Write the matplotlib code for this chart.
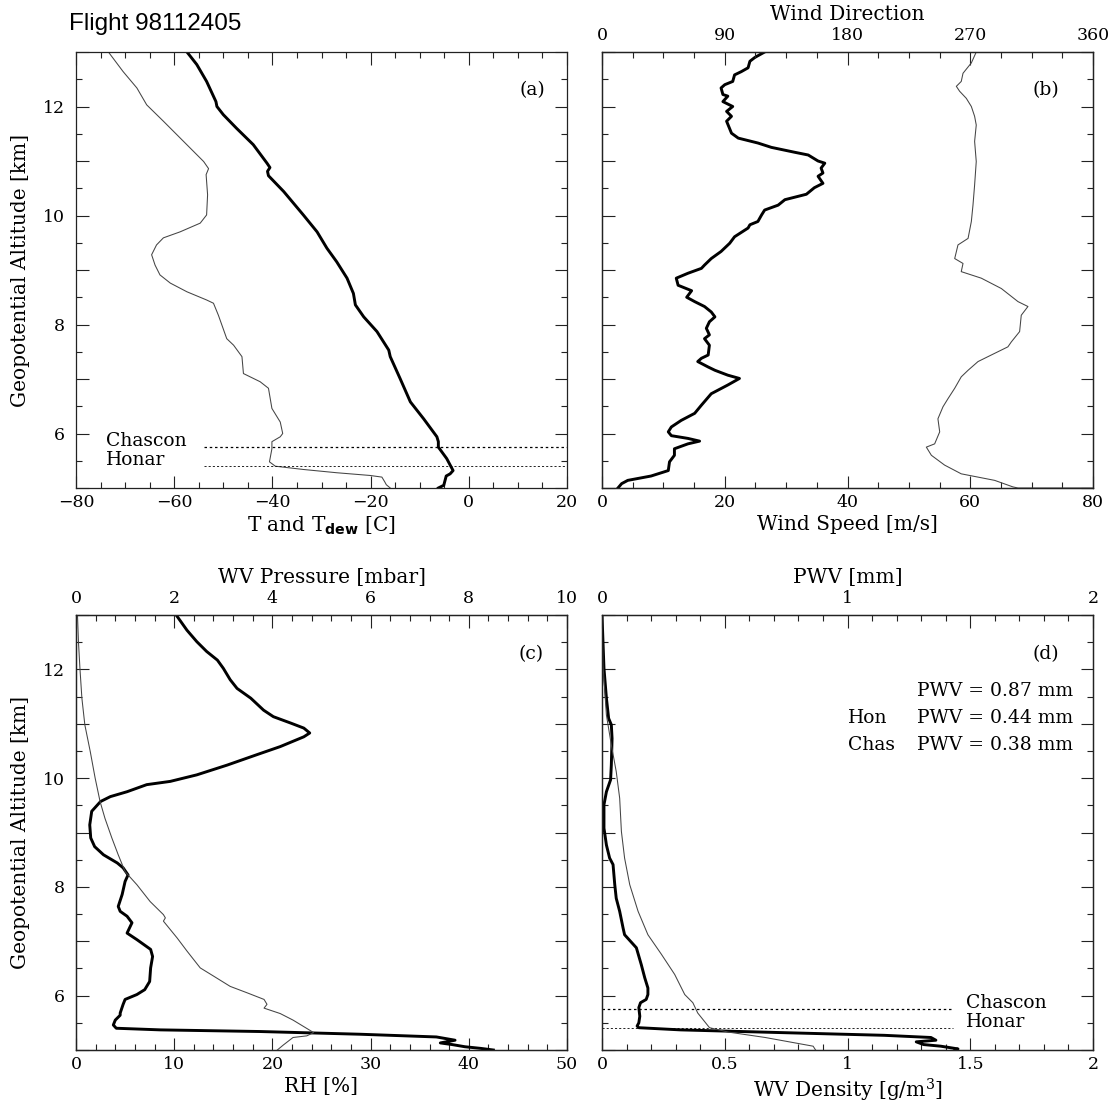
import matplotlib
matplotlib.use('Agg')
import matplotlib.pyplot as plt
from matplotlib.ticker import MultipleLocator, FuncFormatter

plt.rcParams['font.family'] = 'DejaVu Serif'
plt.rcParams['mathtext.fontset'] = 'custom'
plt.rcParams['mathtext.rm'] = 'DejaVu Serif'
plt.rcParams['mathtext.bf'] = 'DejaVu Sans:bold'
plt.rcParams['axes.unicode_minus'] = True

# ---------------- data ----------------
site_names = ['Chascon', 'Honar']
site_alt = [5.75, 5.40]

# (a) temperature and dew point vs altitude
t_alt = [13.0, 12.77, 12.46, 12.09, 12.0, 11.85, 11.60, 11.30, 10.96, 10.88, 10.81, 10.73, 10.44, 10.01,
         9.70, 9.40, 9.15, 8.85, 8.57, 8.36, 8.14, 7.87, 7.53, 7.41, 7.01, 6.58, 6.27, 5.94, 5.85, 5.75,
         5.54, 5.32, 5.26, 5.22, 5.05, 5.0]
t_val = [-57.4, -55.4, -53.4, -51.5, -51.3, -50.0, -47.3, -43.9, -41.1, -40.5, -41.0, -40.8, -37.7, -33.7,
         -30.9, -28.9, -26.9, -24.8, -23.5, -23.1, -21.4, -18.7, -16.3, -16.0, -14.0, -11.9, -9.2, -6.5, -6.2, -6.2,
         -4.5, -3.2, -3.8, -4.6, -5.1, -6.2]
td_alt = [13.0, 12.64, 12.34, 12.03, 11.73, 11.36, 10.99, 10.86, 10.75, 10.38, 10.01, 9.86, 9.70, 9.59,
          9.46, 9.28, 9.09, 8.91, 8.76, 8.60, 8.45, 8.39, 8.17, 7.74, 7.62, 7.41, 7.10, 6.95, 6.83, 6.46,
          6.21, 6.0, 5.94, 5.85, 5.72, 5.48, 5.40, 5.34, 5.28, 5.23, 5.20, 5.11, 5.06, 5.0]
td_val = [-73.4, -70.4, -67.6, -65.6, -62.2, -58.1, -54.0, -53.0, -53.5, -53.2, -53.4, -54.7, -58.8, -62.2,
          -63.6, -64.6, -63.9, -62.9, -60.8, -57.4, -53.4, -52.0, -51.0, -49.3, -47.9, -46.2, -45.9, -42.5, -40.8, -40.1,
          -38.4, -37.9, -38.4, -40.1, -40.1, -40.6, -39.4, -33.7, -26.9, -20.1, -17.7, -17.1, -16.8, -16.0]

# (b) wind speed and direction
ws_alt = [13.0, 12.90, 12.83, 12.71, 12.64, 12.58, 12.46, 12.40, 12.34, 12.22, 12.19, 12.09, 12.0, 11.91,
          11.82, 11.73, 11.51, 11.42, 11.33, 11.25, 11.16, 11.11, 11.0, 10.96, 10.87, 10.78, 10.72, 10.59,
          10.51, 10.39, 10.29, 10.19, 10.10, 10.01, 9.89, 9.83, 9.77, 9.61, 9.49, 9.34, 9.21, 9.09, 9.03,
          8.94, 8.85, 8.72, 8.62, 8.50, 8.42, 8.33, 8.23, 8.14, 8.05, 7.93, 7.81, 7.74, 7.62, 7.44, 7.38,
          7.32, 7.22, 7.16, 7.07, 7.01, 6.89, 6.73, 6.52, 6.37, 6.24, 6.12, 6.03, 5.96, 5.91, 5.86, 5.81,
          5.72, 5.60, 5.48, 5.32, 5.22, 5.14, 5.08, 5.0]
ws_val = [26.5, 24.9, 24.1, 23.8, 22.7, 21.6, 21.3, 20.0, 19.4, 19.7, 20.5, 19.7, 21.3, 20.3,
          21.1, 20.3, 21.1, 22.2, 25.4, 27.6, 31.4, 33.6, 35.2, 36.3, 35.7, 36.0, 35.2, 36.0,
          34.6, 33.3, 29.8, 28.7, 26.5, 26.0, 25.4, 24.1, 23.8, 21.6, 20.8, 19.4, 17.8, 16.7, 16.2,
          14.0, 12.1, 12.4, 14.6, 13.8, 15.1, 16.7, 17.8, 18.4, 17.5, 17.0, 17.5, 16.7, 17.5, 17.3, 16.2,
          15.6, 17.3, 18.4, 20.5, 22.4, 20.5, 17.8, 16.2, 15.1, 12.9, 11.3, 10.8, 11.3, 14.0, 15.9, 14.0,
          11.8, 11.8, 11.0, 10.8, 8.0, 4.2, 3.2, 2.6]
wd_alt = [13.0, 12.80, 12.61, 12.46, 12.37, 12.28, 12.15, 12.0, 11.82, 11.66, 11.36, 10.99, 10.56, 10.19,
          9.89, 9.58, 9.46, 9.21, 9.12, 8.97, 8.85, 8.66, 8.42, 8.33, 8.17, 7.87, 7.68, 7.59, 7.44, 7.32,
          7.16, 7.04, 6.83, 6.64, 6.49, 6.27, 6.03, 5.81, 5.75, 5.60, 5.42, 5.26, 5.14, 5.02, 5.0, 5.0]
wd_val = [274.4, 270.8, 264.7, 263.4, 259.8, 262.2, 267.1, 270.8, 273.2, 274.4, 273.2, 274.4, 273.2, 272.0,
          270.8, 268.4, 261.0, 258.6, 264.7, 263.4, 278.1, 292.8, 305.0, 312.3, 307.4, 306.2, 300.1, 297.6, 285.4, 275.7,
          268.4, 263.4, 258.6, 253.7, 250.0, 246.3, 247.6, 243.9, 237.8, 241.5, 251.2, 263.4, 287.9, 301.3, 305.0, 360.0]

# (c) relative humidity and water vapour pressure
rh_alt = [13.0, 12.72, 12.51, 12.33, 12.17, 12.02, 11.81, 11.65, 11.47, 11.25, 11.13, 11.01, 10.92, 10.83,
          10.76, 10.58, 10.43, 10.24, 10.06, 9.94, 9.88, 9.75, 9.66, 9.57, 9.39, 9.14, 8.90, 8.74, 8.59,
          8.44, 8.35, 8.22, 8.10, 7.86, 7.64, 7.55, 7.46, 7.34, 7.15, 7.03, 6.85, 6.72, 6.51, 6.26, 6.11,
          6.02, 5.93, 5.84, 5.68, 5.64, 5.55, 5.46, 5.40, 5.37, 5.34, 5.29, 5.24, 5.18, 5.13, 5.10, 5.06,
          5.03, 5.0]
rh_val = [10.2, 11.3, 12.3, 13.3, 14.4, 15.0, 15.7, 16.4, 17.8, 19.1, 20.1, 21.9, 23.2, 23.8,
          23.2, 20.8, 18.4, 15.4, 12.3, 9.6, 7.2, 5.2, 3.5, 2.5, 1.6, 1.4, 1.5, 1.9, 2.8,
          4.2, 4.8, 5.3, 5.0, 4.7, 4.3, 4.5, 5.2, 5.7, 5.2, 6.2, 7.6, 7.8, 7.6, 7.5, 7.0,
          6.2, 5.0, 4.8, 4.5, 4.5, 4.0, 3.8, 4.1, 8.6, 18.7, 28.9, 36.7, 38.6, 37.1, 38.3, 39.6,
          41.2, 42.5]
e_alt = [13.0, 12.51, 12.02, 11.47, 10.98, 10.49, 10.0, 9.57, 9.26, 8.90, 8.59, 8.28, 8.04, 7.73, 7.49,
         7.43, 7.37, 7.06, 6.82, 6.51, 6.36, 6.17, 6.05, 5.93, 5.84, 5.77, 5.67, 5.55, 5.32, 5.26, 5.23,
         5.09, 5.0]
e_val = [0.03, 0.05, 0.08, 0.12, 0.18, 0.29, 0.39, 0.49, 0.59, 0.73, 0.86, 1.0, 1.24, 1.51, 1.78,
         1.82, 1.78, 2.06, 2.26, 2.53, 2.80, 3.14, 3.49, 3.83, 3.89, 3.83, 4.16, 4.42, 4.84, 4.70, 4.42,
         4.22, 4.10]

# (d) water vapour density and cumulative PWV
rho_alt = [13.0, 12.51, 12.02, 11.47, 11.10, 10.98, 10.73, 10.24, 9.97, 9.75, 9.51, 9.08, 8.77, 8.53,
           8.41, 8.04, 7.79, 7.55, 7.24, 7.12, 6.88, 6.57, 6.33, 6.14, 6.02, 5.93, 5.87, 5.78, 5.62, 5.50,
           5.44, 5.41, 5.37, 5.32, 5.27, 5.23, 5.18, 5.15, 5.10, 5.07, 5.02, 5.0]
rho_val = [0.0, 0.004, 0.008, 0.018, 0.027, 0.038, 0.041, 0.038, 0.035, 0.018, 0.008, 0.008, 0.018, 0.031,
           0.045, 0.052, 0.058, 0.072, 0.086, 0.092, 0.140, 0.160, 0.174, 0.187, 0.187, 0.180, 0.157, 0.150, 0.154, 0.150,
           0.143, 0.150, 0.32, 0.73, 1.15, 1.34, 1.36, 1.28, 1.31, 1.38, 1.45, 1.44]
pwv_alt = [13.0, 12.08, 11.16, 10.61, 10.12, 9.63, 9.02, 8.53, 8.04, 7.55, 7.12, 6.76, 6.39, 6.02,
           5.87, 5.68, 5.41, 5.33, 5.23, 5.07, 5.0]
pwv_val = [0.0, 0.004, 0.018, 0.038, 0.058, 0.072, 0.079, 0.092, 0.113, 0.147, 0.187, 0.242, 0.296, 0.337,
           0.37, 0.39, 0.438, 0.514, 0.665, 0.86, 0.87]
pwv_labels = ['', 'Hon', 'Chas']
pwv_totals = ['0.87', '0.44', '0.38']

# ---------------- figure ----------------
W, H = 1109, 1108
fig = plt.figure(figsize=(W / 100, H / 100), dpi=100)


def rect(l, t, r, b):
    return [l / W, 1 - b / H, (r - l) / W, (b - t) / H]


axA = fig.add_axes(rect(76, 52, 567, 488))
axB = fig.add_axes(rect(602, 52, 1093, 488))
axC = fig.add_axes(rect(76, 615, 567, 1050))
axD = fig.add_axes(rect(602, 615, 1093, 1050))

THICK = dict(color='black', lw=2.1, solid_joinstyle='round')
THIN = dict(color='#444444', lw=0.75)
TICK = 12.5
LAB = 14.5
TXT = 13.5
FRAME = '#222222'


def yfmt(v, p):
    return '%d' % v if (int(round(v)) % 2 == 0 and 5 < v < 13) else ''


def gfmt(v, p):
    return '%g' % v


def base(ax, ylabels):
    ax.set_ylim(5, 13)
    ax.yaxis.set_major_locator(MultipleLocator(1))
    ax.yaxis.set_minor_locator(MultipleLocator(0.5))
    if ylabels:
        ax.yaxis.set_major_formatter(FuncFormatter(yfmt))
        ax.set_ylabel('Geopotential Altitude [km]', fontsize=LAB)
        ax.yaxis.set_label_coords(-0.094, 0.5)
    else:
        ax.yaxis.set_major_formatter(FuncFormatter(lambda v, p: ''))
    ax.tick_params(axis='both', which='both', direction='in', right=True, width=0.8, colors=FRAME,
                   labelcolor='black', labelsize=TICK)
    ax.tick_params(axis='both', which='major', length=9)
    ax.tick_params(axis='both', which='minor', length=4.5)
    ax.tick_params(axis='y', which='major', pad=8)
    ax.tick_params(axis='x', which='major', pad=4)
    for s in ax.spines.values():
        s.set_linewidth(0.9)
        s.set_color(FRAME)


def twin_top(ax, lo, hi, major, minor, label, labelled=None):
    tw = ax.twiny()
    tw.set_xlim(lo, hi)
    tw.xaxis.set_major_locator(MultipleLocator(major))
    tw.xaxis.set_minor_locator(MultipleLocator(minor))
    if labelled is not None:
        tw.xaxis.set_major_formatter(FuncFormatter(
            lambda v, p: ('%g' % v) if any(abs(v - q) < 1e-6 for q in labelled) else ''))
    else:
        tw.xaxis.set_major_formatter(FuncFormatter(gfmt))
    tw.tick_params(axis='x', which='both', direction='in', width=0.8, colors=FRAME,
                   labelcolor='black', labelsize=TICK)
    tw.tick_params(axis='x', which='major', length=9, pad=6)
    tw.tick_params(axis='x', which='minor', length=4.5)
    tw.set_xlabel(label, fontsize=LAB, labelpad=5)
    for s in tw.spines.values():
        s.set_linewidth(0.9)
        s.set_color(FRAME)
    return tw


# ---- (a)
base(axA, True)
axA.set_xlim(-80, 20)
axA.xaxis.set_major_locator(MultipleLocator(20))
axA.xaxis.set_minor_locator(MultipleLocator(5))
axA.tick_params(axis='x', which='both', top=True)
axA.plot(td_val, td_alt, **THIN)
axA.plot(t_val, t_alt, **THICK)
axA.set_xlabel(r'T and T$_{\mathbf{dew}}$ [C]', fontsize=LAB, labelpad=3)
axA.plot([-54, 20], [site_alt[0]] * 2, color='black', lw=0.9, ls=(0, (2, 2.2)))
axA.plot([-54, 20], [site_alt[1]] * 2, color='black', lw=0.6, ls=(0, (2.5, 2.5)))
axA.text(0.061, 5.86, site_names[0], transform=axA.get_yaxis_transform(), fontsize=TXT, va='center')
axA.text(0.061, 5.51, site_names[1], transform=axA.get_yaxis_transform(), fontsize=TXT, va='center')
axA.text(0.929, 0.913, '(a)', transform=axA.transAxes, fontsize=TXT, ha='center', va='center')
fig.text(69 / W, 1 - 24 / H, 'Flight 98112405', fontfamily='Liberation Sans', fontsize=17.5,
         ha='left', va='center')

# ---- (b)
base(axB, False)
axB.set_xlim(0, 80)
axB.xaxis.set_major_locator(MultipleLocator(20))
axB.xaxis.set_minor_locator(MultipleLocator(5))
axB.plot(ws_val, ws_alt, **THICK)
axB.set_xlabel('Wind Speed [m/s]', fontsize=LAB, labelpad=3)
twB = twin_top(axB, 0, 360, 90, 22.5, 'Wind Direction')
twB.plot(wd_val, wd_alt, **THIN)
axB.text(0.904, 0.913, '(b)', transform=axB.transAxes, fontsize=TXT, ha='center', va='center')

# ---- (c)
base(axC, True)
axC.set_xlim(0, 50)
axC.xaxis.set_major_locator(MultipleLocator(10))
axC.xaxis.set_minor_locator(MultipleLocator(2))
axC.plot(rh_val, rh_alt, **THICK)
axC.set_xlabel('RH [%]', fontsize=LAB, labelpad=3)
twC = twin_top(axC, 0, 10, 2, 0.4, 'WV Pressure [mbar]')
twC.plot(e_val, e_alt, **THIN)
axC.text(0.927, 0.910, '(c)', transform=axC.transAxes, fontsize=TXT, ha='center', va='center')

# ---- (d)
base(axD, False)
axD.set_xlim(0, 2)
axD.xaxis.set_major_locator(MultipleLocator(0.5))
axD.xaxis.set_minor_locator(MultipleLocator(0.1))
axD.xaxis.set_major_formatter(FuncFormatter(gfmt))
axD.plot(rho_val, rho_alt, **THICK)
axD.set_xlabel(r'WV Density [g/m$^{3}$]', fontsize=LAB, labelpad=3)
twD = twin_top(axD, 0, 2, 0.5, 0.1, 'PWV [mm]', labelled=[0, 1, 2])
twD.plot(pwv_val, pwv_alt, **THIN)
axD.plot([0, 1.43], [site_alt[0]] * 2, color='black', lw=0.9, ls=(0, (2, 2.2)))
axD.plot([0, 1.43], [site_alt[1]] * 2, color='black', lw=0.6, ls=(0, (2.5, 2.5)))
axD.text(0.741, 5.86, site_names[0], transform=axD.get_yaxis_transform(), fontsize=TXT, va='center')
axD.text(0.741, 5.51, site_names[1], transform=axD.get_yaxis_transform(), fontsize=TXT, va='center')
axD.text(0.904, 0.910, '(d)', transform=axD.transAxes, fontsize=TXT, ha='center', va='center')
for i, (lab, tot) in enumerate(zip(pwv_labels, pwv_totals)):
    y = 0.825 - 0.062 * i
    if lab:
        axD.text(0.501, y, lab, transform=axD.transAxes, fontsize=TXT, ha='left', va='center')
    axD.text(0.959, y, 'PWV = %s mm' % tot, transform=axD.transAxes, fontsize=TXT, ha='right', va='center')

fig.savefig('out.png', dpi=100)
